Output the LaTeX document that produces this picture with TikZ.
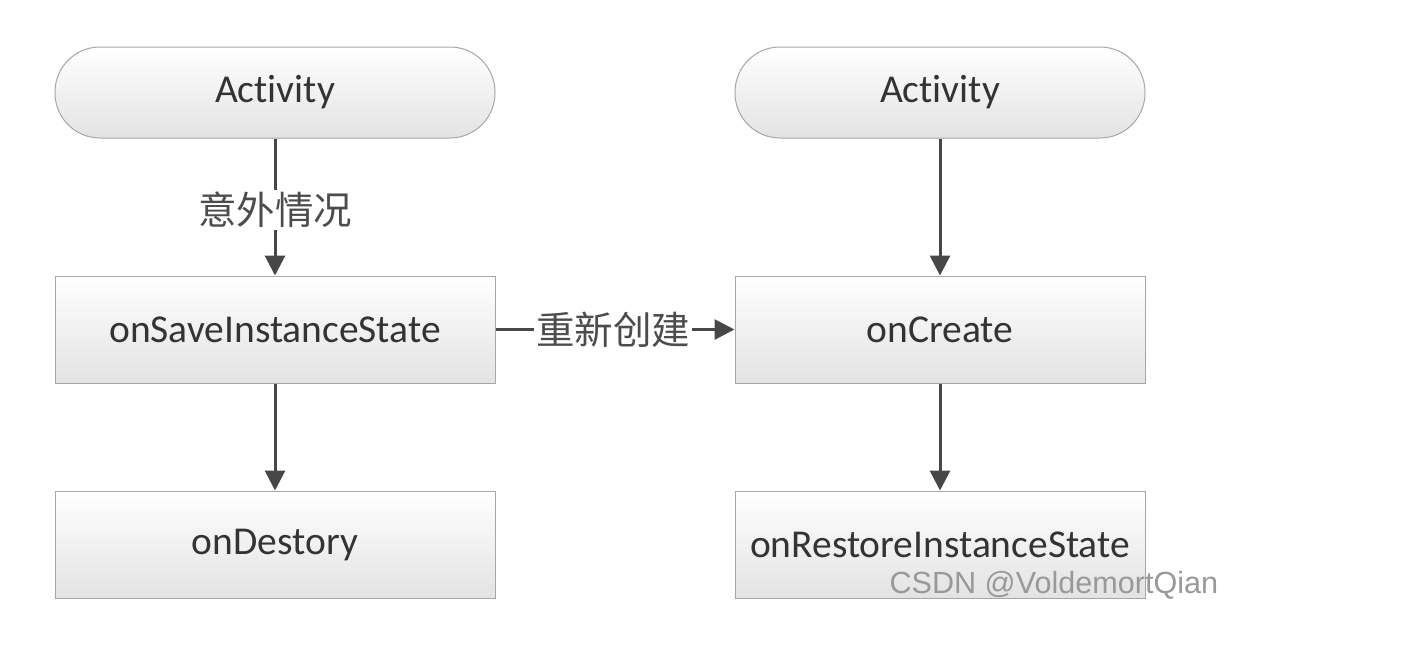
\documentclass[tikz,border=0pt]{standalone}
\usepackage{fontspec}
\setmainfont{Carlito}[Ligatures={NoCommon}]
\newfontfamily\cjk{Noto Sans CJK SC}
\newfontfamily\wm{Liberation Sans}
\usetikzlibrary{arrows.meta}
\begin{document}
\begin{tikzpicture}[x=1pt,y=-1pt,
  boxbase/.style={draw=gray!70, line width=1pt, top color=white, bottom color=gray!22,
    minimum width=440pt, minimum height=107pt, inner sep=0pt, font=\fontsize{39.5}{42}\selectfont, text=black!80},
  procbox/.style={boxbase},
  termbox/.style={boxbase, minimum width=440pt, minimum height=91pt, rounded corners=45pt},
  conn/.style={draw=black!72, line width=3pt, -{Triangle[length=20pt,width=20pt]}},
  lbl/.style={fill=white, inner sep=2pt, font=\cjk\fontsize{38.5}{40}\selectfont, text=black!70}]
\useasboundingbox (0,0) rectangle (1404,654);
\node[termbox] (a1) at (275,92.5) {Activity};
\node[procbox] (s) at (275,329.5) {onSaveInstanceState};
\node[procbox] (d) at (275,544.5) {onDestory};
\node[termbox, minimum width=410pt] (a2) at (940,92.5) {Activity};
\node[procbox, minimum width=410pt] (c) at (940,329.5) {onCreate};
\node[procbox, minimum width=410pt] (r) at (940,544.5) {onRestoreInstanceState};
\draw[conn] (a1) -- node[lbl, yshift=-3pt] (l1) {意外情况} (s);
\draw[conn] (s) -- (d);
\draw[conn] (a2) -- (c);
\draw[conn] (c) -- (r);
\draw[conn] (s) -- node[lbl, xshift=-2pt] (l2) {重新创建} (c);
\node[font=\wm\fontsize{30.6}{32}\selectfont, text=gray!80, anchor=west] (w) at (886,585) {CSDN @VoldemortQian};
\end{tikzpicture}
\end{document}
